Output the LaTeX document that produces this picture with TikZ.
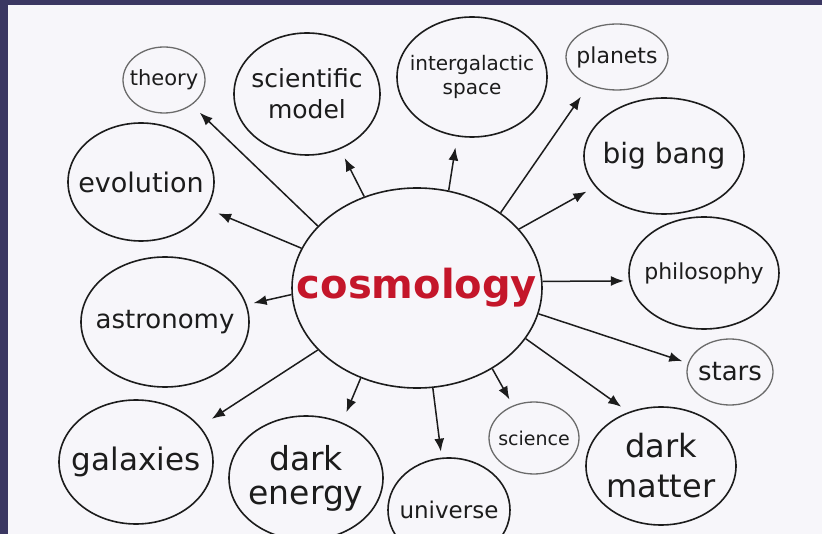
\documentclass[tikz,border=0pt]{standalone}
\usepackage{fontspec}
\setmainfont{DejaVu Sans}
\usetikzlibrary{shapes.geometric, arrows.meta}
\definecolor{frame}{RGB}{59,55,98}
\definecolor{paper}{RGB}{247,246,250}
\definecolor{ink}{RGB}{28,28,28}
\definecolor{cosred}{RGB}{196,22,42}

\begin{document}
\begin{tikzpicture}[x=1pt, y=-1pt,
    bubble/.style={draw=ink, ellipse, line width=1.6pt, inner sep=0pt},
    faint/.style={bubble, draw=ink!65, line width=1.3pt},
    word/.style={text=ink, align=center, inner sep=0pt},
    link/.style={draw=ink, line width=1.5pt, -{Latex[length=13pt, width=10pt]}}]
  \useasboundingbox (0,0) rectangle (822,534);
  \fill[frame] (0,0) rectangle (822,534);
  \fill[paper] (8,5) rectangle (822,534);
  \clip (8,5) rectangle (822,534);

  % the middle
  \node[bubble, minimum width=250pt, minimum height=200pt] (cos) at (417,288) {};
  \node[word, text=cosred, font=\fontsize{40}{40}\selectfont\bfseries] (cos-t) at (cos) {cosmology};

  % the ring round it
  \node[faint, minimum width=82pt, minimum height=66pt] (theory) at (164,80) {};
  \node[bubble, minimum width=146pt, minimum height=122pt] (sci) at (307,94) {};
  \node[bubble, minimum width=150pt, minimum height=120pt] (inter) at (472,77) {};
  \node[faint, minimum width=102pt, minimum height=66pt] (planets) at (617,57) {};
  \node[bubble, minimum width=160pt, minimum height=116pt] (bang) at (664,156) {};
  \node[bubble, minimum width=150pt, minimum height=112pt] (philo) at (704,273) {};
  \node[faint, minimum width=86pt, minimum height=66pt] (stars) at (730,372) {};
  \node[bubble, minimum width=150pt, minimum height=118pt] (matter) at (661,466) {};
  \node[faint, minimum width=90pt, minimum height=72pt] (science) at (534,438) {};
  \node[bubble, minimum width=122pt, minimum height=104pt] (universe) at (449,510) {};
  \node[bubble, minimum width=154pt, minimum height=124pt] (energy) at (306,478) {};
  \node[bubble, minimum width=154pt, minimum height=124pt] (galaxies) at (136,462) {};
  \node[bubble, minimum width=168pt, minimum height=130pt] (astro) at (165,322) {};
  \node[bubble, minimum width=146pt, minimum height=118pt] (evo) at (141,182) {};

  % labels
  \foreach \n/\t/\s/\l in {theory/theory/21/21, sci/{scientific\\model}/25/31,
      inter/{intergalactic\\space}/20/24, planets/planets/22/22, bang/big bang/28/28,
      philo/philosophy/22/22, stars/stars/26/26, matter/{dark\\matter}/32/40,
      science/science/19/19, universe/universe/23/23, energy/{dark\\energy}/33/34,
      galaxies/galaxies/31/31, astro/astronomy/26/26, evo/evolution/27/27}
    \node[word, font=\fontsize{\s}{\l}\selectfont] (\n-t) at (\n) {\t};

  % arrows out of the middle
  \foreach \a/\n/\b/\g in {148/theory/-42/11, 161/evo/-22/12, 120/sci/-59/10,
      72/inter/256/11, 42/planets/225/14, 30/bang/204/10, 3/philo/186/5,
      -12/stars/168/6, -25/matter/121/9, -47/science/123/7, -81/universe/98/6,
      238/energy/57/11, 212/galaxies/29/14, 183/astro/12/7}
    \draw[link, shorten >=\g pt] (cos.\a) -- (\n.\b);
\end{tikzpicture}
\end{document}
